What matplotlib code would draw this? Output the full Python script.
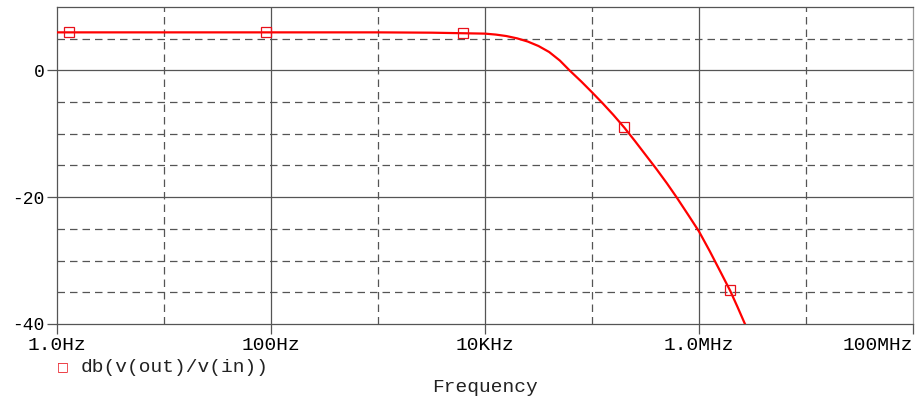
import numpy as np
import matplotlib
matplotlib.use("Agg")
from matplotlib import pyplot as plt

# -------- data -----------------------------#
# frequency (Hz) and gain (dB) of db(v(out)/v(in))
freq = [1.0, 10.0, 100.0, 1e3, 3.16e3, 1e4, 1.26e4, 1.58e4, 2.0e4, 2.51e4,
        3.16e4, 3.98e4, 5.01e4, 6.17e4, 7.94e4, 1e5, 1.26e5, 1.58e5, 2.0e5,
        2.51e5, 3.16e5, 3.98e5, 5.01e5, 6.17e5, 7.94e5, 1e6, 1.26e6, 1.58e6,
        1.95e6, 2.29e6, 2.69e6]
gain = [6.0, 6.0, 6.0, 6.0, 5.95, 5.8, 5.65, 5.42, 5.05, 4.55,
        3.85, 2.9, 1.55, 0.0, -1.75, -3.45, -5.2, -7.0, -9.0,
        -11.1, -13.3, -15.5, -17.8, -20.0, -22.8, -25.4, -28.5, -31.7,
        -34.7, -37.3, -40.0]

# marker positions along the trace
mark_freq = [1.29, 89.0, 6.2e3, 1.99e5, 1.95e6]
mark_gain = [6.0, 6.0, 5.95, -9.0, -34.7]

x_ticks = [1, 100, 1e4, 1e6, 1e8]
x_labels = ['1.0Hz', '100Hz', '10KHz', '1.0MHz', '100MHz']
x_minor = [10, 1e3, 1e5, 1e7]
y_ticks = [-40, -20, 0]
y_solid = [-20, 0]
y_dashed = [5, -5, -10, -15, -25, -30, -35]

# -------- drawing ----------#
font = 'Liberation Mono'
grid_col = '#555555'

fig = plt.figure(figsize=(9.17, 4.0), dpi=100)
ax = fig.add_axes([0.0622, 0.19, 0.9334, 0.7925])
ax.set_xscale('log')
ax.set_xlim(1, 1e8)
ax.set_ylim(-40, 10)

for xv in x_ticks[1:-1]:
    ax.axvline(xv, color=grid_col, lw=0.9, zorder=1)
for xv in x_minor:
    ax.axvline(xv, color=grid_col, lw=0.9, ls=(0, (6, 4)), zorder=1)
for yv in y_solid:
    ax.axhline(yv, color=grid_col, lw=0.9, zorder=1)
for yv in y_dashed:
    ax.axhline(yv, color=grid_col, lw=0.9, ls=(0, (6, 4)), zorder=1)

ax.plot(freq, gain, '-', color='#ff0000', lw=1.6, zorder=3)
ax.plot(mark_freq, mark_gain, 's', mfc='none', mec='#e8101a', ms=6.5,
        mew=0.9, zorder=4)

ax.set_xticks(x_ticks)
ax.set_xticklabels(x_labels, fontfamily=font, fontsize=14)
ax.get_xticklabels()[-1].set_horizontalalignment('right')
ax.xaxis.set_minor_locator(matplotlib.ticker.NullLocator())
ax.set_yticks(y_ticks)
ax.set_yticklabels(['-40', '-20', '0'], fontfamily=font, fontsize=13)
ax.tick_params(axis='both', length=7, width=0.9, color=grid_col, pad=2)

for s in ax.spines.values():
    s.set_color(grid_col)
    s.set_linewidth(0.9)
ax.spines['right'].set_color('#999999')

fig.text(0.0686, 0.0825, '\u25a1', color='#e8101a', fontsize=9,
         fontfamily='DejaVu Sans', va='center', ha='center')
fig.text(0.088, 0.0825, 'db(v(out)/v(in))', fontfamily=font, fontsize=14,
         va='center', ha='left', color='#222222')
fig.text(0.529, 0.03, 'Frequency', fontfamily=font, fontsize=14,
         va='center', ha='center', color='#222222')

fig.savefig('out.png', dpi=100)
